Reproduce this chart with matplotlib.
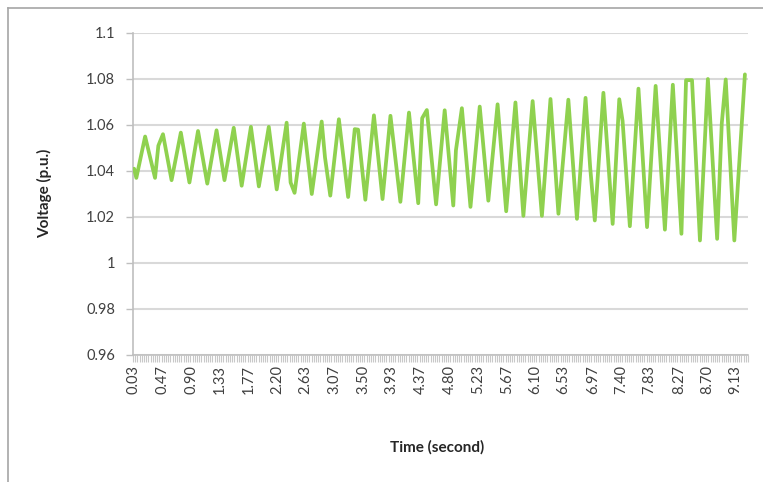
import numpy as np
import matplotlib
matplotlib.use("Agg")
import matplotlib.pyplot as plt
from matplotlib.ticker import FixedLocator, FixedFormatter

# Time (s) and voltage (p.u.) (turning points and kinks)
time_s = [0.033, 0.067, 0.20, 0.35, 0.40, 0.47, 0.60, 0.74, 0.87, 0.92,
          1.00, 1.14, 1.28, 1.40, 1.54, 1.66, 1.80, 1.92, 2.07, 2.19,
          2.34, 2.40, 2.46, 2.60, 2.72, 2.87, 2.92, 3.00, 3.13, 3.27,
          3.37, 3.42, 3.53, 3.66, 3.79, 3.91, 4.06, 4.19, 4.33, 4.39,
          4.46, 4.60, 4.73, 4.86, 4.90, 4.99, 5.12, 5.26, 5.39, 5.53,
          5.66, 5.80, 5.92, 6.06, 6.20, 6.33, 6.45, 6.60, 6.73, 6.86,
          6.93, 7.00, 7.13, 7.27, 7.37, 7.42, 7.53, 7.66, 7.79, 7.92,
          8.06, 8.18, 8.31, 8.38, 8.47, 8.59, 8.71, 8.85, 8.92, 8.98,
          9.11, 9.27]
voltage = [1.041, 1.037, 1.055, 1.037, 1.051, 1.056, 1.036, 1.0567, 1.035, 1.0437,
           1.0574, 1.0345, 1.0577, 1.036, 1.0588, 1.0336, 1.0592, 1.0333, 1.0592, 1.032,
           1.061, 1.035, 1.0305, 1.0606, 1.030, 1.0615, 1.0459, 1.0293, 1.0625, 1.0287,
           1.0582, 1.058, 1.0275, 1.0642, 1.0278, 1.064, 1.0266, 1.0654, 1.026, 1.063,
           1.0665, 1.0255, 1.0664, 1.025, 1.049, 1.0673, 1.0244, 1.068, 1.0271, 1.069,
           1.0225, 1.0698, 1.0205, 1.0704, 1.0205, 1.0713, 1.0214, 1.071, 1.0192, 1.0718,
           1.0416, 1.0185, 1.074, 1.017, 1.0712, 1.0618, 1.016, 1.0758, 1.0156, 1.077,
           1.0145, 1.0775, 1.0127, 1.0795, 1.0795, 1.0098, 1.080, 1.0105, 1.0607, 1.0798,
           1.0098, 1.082]

x_labels = ["0.03", "0.47", "0.90", "1.33", "1.77", "2.20", "2.63", "3.07", "3.50",
            "3.93", "4.37", "4.80", "5.23", "5.67", "6.10", "6.53", "6.97", "7.40",
            "7.83", "8.27", "8.70", "9.13"]
y_ticks = [0.96, 0.98, 1.0, 1.02, 1.04, 1.06, 1.08, 1.1]
y_labels = ["0.96", "0.98", "1", "1.02", "1.04", "1.06", "1.08", "1.1"]

sample_step = 1 / 30
n_categories = 279

W, H = 763, 482
fig = plt.figure(figsize=(W / 100, H / 100), dpi=100)
font = ["Lato", "DejaVu Sans"]
plt.rcParams["font.family"] = font

ax = fig.add_axes([133 / W, 1 - 355 / H, (748 - 133) / W, (355 - 33) / H])

ax.plot(time_s, voltage, color="#8fd14f", lw=2.7, solid_joinstyle="round",
        solid_capstyle="round", zorder=3)

ax.set_xlim(0.5 * sample_step, (n_categories + 0.5) * sample_step)
ax.set_ylim(0.96, 1.1)

ax.set_yticks(y_ticks)
ax.set_yticklabels(y_labels, fontsize=10.5, color="#404040")
ax.yaxis.grid(True, color="#d9d9d9", lw=1.5, zorder=0)
ax.tick_params(axis="y", length=5, width=1, color="#bfbfbf", pad=8)

label_pos = [float(s) for s in x_labels]
ax.xaxis.set_major_locator(FixedLocator(label_pos))
ax.xaxis.set_major_formatter(FixedFormatter(x_labels))
ax.tick_params(axis="x", which="major", length=0, pad=7, labelsize=10.5,
               labelcolor="#404040", labelrotation=90)
minor_pos = [(k + 0.5) * sample_step for k in range(n_categories + 1)]
ax.xaxis.set_minor_locator(FixedLocator(minor_pos))
ax.tick_params(axis="x", which="minor", length=5, width=0.8, color="#c8c8c8")

for s in ["top", "right"]:
    ax.spines[s].set_visible(False)
for s in ["left", "bottom"]:
    ax.spines[s].set_color("#bfbfbf")
    ax.spines[s].set_linewidth(1.2)

fig.text(45 / W, 1 - 193 / H, "Voltage (p.u.)", rotation=90, ha="center", va="center",
         fontsize=11, fontweight="bold", color="#262626")
fig.text(437 / W, 1 - 447 / H, "Time (second)", ha="center", va="center",
         fontsize=11, fontweight="bold", color="#262626")

# chart area border (left and top edges visible in the reference)
fig.add_artist(plt.Line2D([8 / W, 8 / W], [0, 1 - 8 / H], color="#a6a6a6", lw=1.2,
                          transform=fig.transFigure))
fig.add_artist(plt.Line2D([8 / W, 1], [1 - 8 / H, 1 - 8 / H], color="#a6a6a6", lw=1.2,
                          transform=fig.transFigure))

fig.savefig("out.png", dpi=100)
